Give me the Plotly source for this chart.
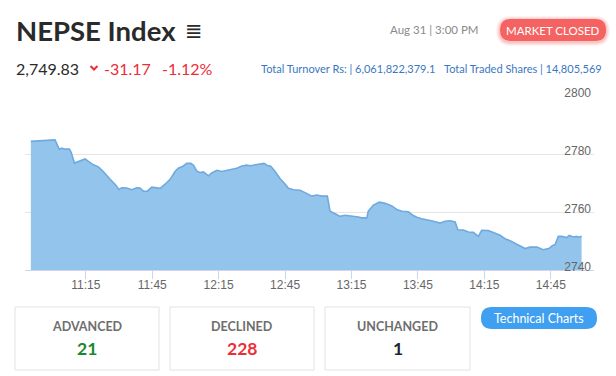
import plotly.graph_objects as go

# ---------------- data ----------------
DAY = "2023-08-31"
times = ["10:50:12","11:01:06","11:02:12","11:03:06","11:04:12","11:05:42","11:07:36","11:08:24","11:09:54","11:11:42",
         "11:14:42","11:16:12","11:18:24","11:20:42","11:22:54","11:26:00","11:28:12","11:30:00","11:31:18","11:33:30",
         "11:35:48","11:38:00","11:39:30","11:41:00","11:42:48","11:44:48","11:47:06","11:48:36","11:50:48","11:53:06",
         "11:55:18","11:56:48","11:59:06","12:00:36","12:02:24","12:03:36","12:05:06","12:06:36","12:08:06","12:09:18",
         "12:10:24","12:11:54","12:14:12","12:16:24","12:18:42","12:20:54","12:23:12","12:25:30","12:27:42","12:29:12",
         "12:31:30","12:33:42","12:35:30","12:37:00","12:38:30","12:40:30","12:42:42","12:45:00","12:46:30","12:48:48",
         "12:51:48","12:54:00","12:57:06","12:59:18","13:01:36","13:04:06","13:05:18","13:07:36","13:09:48","13:12:06",
         "13:15:06","13:18:06","13:19:36","13:21:54","13:22:36","13:24:54","13:27:36","13:30:12","13:33:12","13:35:24",
         "13:37:42","13:40:42","13:42:54","13:44:30","13:46:42","13:49:00","13:52:00","13:55:00","13:57:18","13:59:30",
         "14:01:48","14:03:00","14:05:30","14:07:48","14:10:00","14:12:18","14:13:48","14:16:48","14:19:48","14:22:06",
         "14:24:18","14:26:36","14:29:36","14:33:24","14:35:36","14:38:42","14:41:36","14:43:24","14:44:18","14:45:48",
         "14:46:54","14:48:24","14:49:54","14:52:12","14:53:18","14:55:06","14:56:42","14:57:24","14:58:54"]
index_values = [2784.4,2784.9,2783.1,2781.6,2782.1,2781.7,2781.7,2780.6,2776.9,2777.5,
                2778.3,2777.5,2776.3,2775.6,2774.0,2771.3,2769.6,2767.8,2768.4,2768.3,
                2767.7,2768.4,2768.3,2767.2,2767.2,2768.6,2768.5,2768.2,2769.6,2771.3,
                2774.0,2775.1,2775.9,2776.8,2776.8,2776.2,2774.2,2773.6,2773.9,2773.3,
                2772.5,2773.5,2774.4,2774.0,2774.4,2774.8,2775.1,2775.9,2776.2,2776.0,
                2776.3,2776.5,2776.8,2776.1,2775.8,2774.0,2771.6,2769.7,2768.2,2767.7,
                2767.5,2766.7,2765.5,2765.9,2765.5,2765.5,2760.3,2759.4,2758.5,2758.9,
                2758.7,2758.3,2758.0,2758.0,2760.3,2762.4,2763.4,2763.0,2762.1,2760.9,
                2760.3,2760.1,2758.8,2758.2,2757.7,2757.4,2756.8,2756.2,2756.8,2757.0,
                2756.6,2753.9,2753.8,2753.1,2753.0,2751.6,2753.7,2753.6,2752.8,2752.0,
                2750.8,2750.1,2748.9,2747.4,2747.9,2747.9,2747.0,2747.3,2747.5,2748.5,
                2748.7,2751.6,2751.6,2751.2,2751.9,2751.4,2751.6,2751.3,2751.6]
y_ticks = [2740, 2760, 2780, 2800]
x_tick_labels = ["11:15", "11:45", "12:15", "12:45", "13:15", "13:45", "14:15", "14:45"]

title = "NEPSE Index"
last_value = "2,749.83"
change = "-31.17"
change_pct = "-1.12%"
timestamp = "Aug 31 | 3:00 PM"
status = "MARKET CLOSED"
turnover = "Total Turnover Rs: | 6,061,822,379.1"
traded = "Total Traded Shares | 14,805,569"
breadth_labels = ["ADVANCED", "DECLINED", "UNCHANGED"]
breadth_values = ["21", "228", "1"]
breadth_colors = ["#17882c", "#ec2d37", "#222233"]
button_text = "Technical Charts"

# ---------------- layout helpers ----------------
W, H = 616, 376
ML, MR, MT, MB = 25, 22, 96, 106
PW, PH = W - ML - MR, H - MT - MB


def px(x):
    return (x - ML) / PW


def py(y):
    return (H - MB - y) / PH


def rounded_rect(x0, y0, x1, y1, r):
    a0, a1 = px(x0), px(x1)
    b0, b1 = py(y0), py(y1)
    rx, ry = r / PW, r / PH
    return (f"M{a0+rx},{b0} L{a1-rx},{b0} Q{a1},{b0} {a1},{b0-ry} "
            f"L{a1},{b1+ry} Q{a1},{b1} {a1-rx},{b1} L{a0+rx},{b1} "
            f"Q{a0},{b1} {a0},{b1+ry} L{a0},{b0-ry} Q{a0},{b0} {a0+rx},{b0} Z")


FONT = "Lato"

fig = go.Figure()
fig.add_trace(go.Scatter(
    x=[f"{DAY} {t}" for t in times], y=index_values,
    mode="lines", fill="tozeroy",
    line=dict(color="#6fa9de", width=1.6),
    fillcolor="#93c5ec", hoverinfo="skip", showlegend=False,
))

tickvals = [f"{DAY} {t}:00" for t in x_tick_labels]

fig.update_layout(
    width=W, height=H,
    margin=dict(l=ML, r=MR, t=MT, b=MB, pad=0),
    paper_bgcolor="white", plot_bgcolor="white",
    xaxis=dict(
        type="date", range=[f"{DAY} 10:47:34", f"{DAY} 15:04:30"],
        tickvals=tickvals, ticktext=x_tick_labels,
        showgrid=False, zeroline=False,
        showline=True, linecolor="#ccd6eb", linewidth=1,
        ticks="outside", ticklen=8, tickcolor="#ccd6eb", tickwidth=1,
        ticklabelstandoff=-4,
        tickfont=dict(family="Liberation Sans", size=12, color="#666666"),
    ),
    yaxis=dict(
        range=[2740, 2800.05], tickvals=y_ticks, side="right",
        ticklabelposition="inside top", ticklabeloverflow="allow",
        ticklabelshift=5,
        showgrid=True, gridcolor="#e6e6e6", gridwidth=1,
        zeroline=False, showline=False, ticks="",
        tickfont=dict(family="Liberation Sans", size=12, color="#666666"),
    ),
)

shapes = []
annotations = []


def text(x, y, s, size, color, bold=False, anchor="left", family=FONT):
    annotations.append(dict(
        xref="paper", yref="paper", x=px(x), y=py(y), text=f"<b>{s}</b>" if bold else s,
        showarrow=False, xanchor=anchor, yanchor="middle",
        font=dict(family=family, size=size, color=color),
    ))


# header
text(14, 31, title, 27.5, "#2a2a2a", bold=True)
text(183, 31, "≣", 21, "#2a2a2a", family="DejaVu Sans")
text(481, 30, timestamp, 11.5, "#8a8a8a", anchor="right")
# pill glow + pill
for i, op in enumerate([0.08, 0.12, 0.18]):
    g = 4 - i * 1.3
    shapes.append(dict(type="path", xref="paper", yref="paper",
                       path=rounded_rect(500 - g, 19 - g + 1, 606 + g, 41 + g + 1, 11 + g),
                       fillcolor=f"rgba(240,90,90,{op})", line=dict(width=0), layer="above"))
shapes.append(dict(type="path", xref="paper", yref="paper",
                   path=rounded_rect(500, 19, 606, 41, 11),
                   fillcolor="#f46262", line=dict(width=0), layer="above"))
text(553, 30.5, status, 11.5, "white", anchor="center")

# price row
text(14, 68, last_value, 16, "#2a2a2a")
shapes.append(dict(type="path", xref="paper", yref="paper",
                   path=f"M{px(90.5)},{py(66)} L{px(94)},{py(69.5)} L{px(97.5)},{py(66)}",
                   line=dict(color="#ec2d37", width=2), layer="above"))
text(102, 68, change, 16, "#ec2d37")
text(160, 68, change_pct, 16, "#ec2d37")
text(437, 68, turnover, 11, "#3a78c2", anchor="right")
text(604, 68, traded, 11, "#3a78c2", anchor="right")

# breadth boxes
box_x = [(15, 159), (170, 314), (325, 470)]
for (x0, x1), lab, val, col in zip(box_x, breadth_labels, breadth_values, breadth_colors):
    shapes.append(dict(type="rect", xref="paper", yref="paper",
                       x0=px(x0), x1=px(x1), y0=py(370), y1=py(307),
                       line=dict(color="#e2e2e2", width=1), fillcolor="white", layer="above"))
    cx = (x0 + x1) / 2
    text(cx, 326, lab, 12.5, "#6e6e6e", bold=True, anchor="center")
    text(cx, 348, val, 17.5, col, bold=True, anchor="center")

shapes.append(dict(type="path", xref="paper", yref="paper",
                   path=rounded_rect(481, 307, 597, 329, 11),
                   fillcolor="#3f9ff0", line=dict(width=0), layer="above"))
text(539, 318, button_text, 12.5, "white", anchor="center")

fig.update_layout(shapes=shapes, annotations=annotations)
fig.write_html("out.html", config={"displayModeBar": False},
               post_script="document.body.style.margin='0';")
